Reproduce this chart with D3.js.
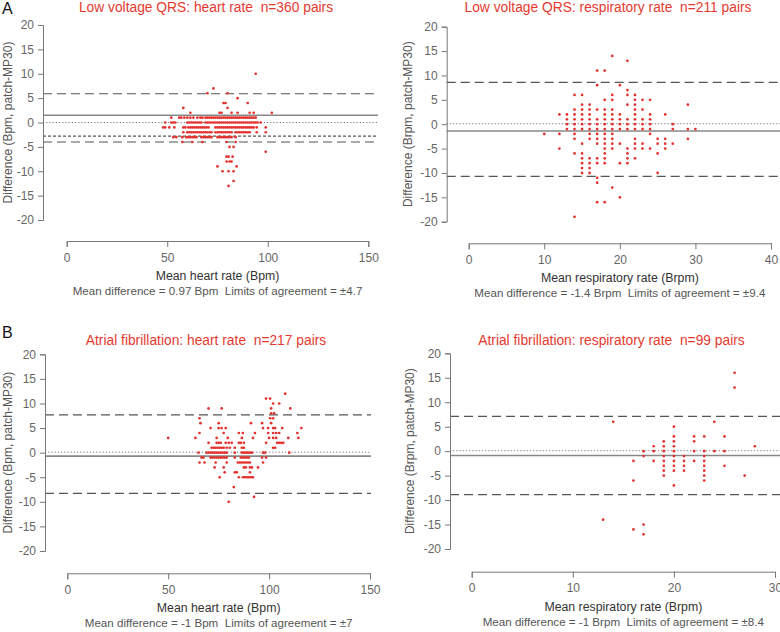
<!DOCTYPE html>
<html lang="en">
<head>
<meta charset="UTF-8">
<title>Bland-Altman: patch vs MP30</title>
<script src="https://cdn.jsdelivr.net/npm/d3@7"></script>
<style>
  html, body { margin: 0; padding: 0; background: #fff; }
  svg { display: block; font-family: "Liberation Sans", Arial, Helvetica, sans-serif; }
  .tick text { fill: #666; font-size: 12px; }
  .domain, .tick line { stroke: #777; }
</style>
</head>
<body>
<script>
// rows: [difference, [mean values at that difference]]
const hrLvqrs = [
  [10, [94]],
  [7, [73]],
  [6, [70, 80]],
  [5, [85]],
  [4, [78, 79, 90]],
  [3, [58, 80]],
  [2, [61.5, 76, 77, 82, 85, 91, 93, 102]],
  [1, [52, 56, 57, 58.5, 60, 61.5, 63, 65, 66.5, 67.5, 69, 70, 71, 72, 73, 74, 75, 76, 77, 78, 79, 80, 81, 82, 83, 84, 85, 86, 87, 88, 89, 90, 91, 92, 93, 94]],
  [0, [49, 52, 53, 54, 60, 61, 62, 63, 64, 65, 66, 67, 69, 70, 71, 72, 73, 74, 75, 76, 77, 78, 79, 80, 81, 82, 83, 84, 85, 86, 87, 88, 89, 90, 91, 92, 93, 94, 95, 96.5]],
  [-1, [48, 49, 51, 53.5, 58, 59, 60.5, 61.5, 62.5, 63.5, 64.5, 65.5, 66.5, 67.5, 68.5, 69.5, 70.5, 74, 75, 76, 77, 78, 79, 80, 81, 82, 83, 84, 85, 86, 87, 88, 89, 90, 91, 92, 93, 94.5, 99]],
  [-2, [58, 60, 61, 62, 63, 64, 65, 66, 67, 68, 69, 70, 71, 72, 74, 75, 76, 77, 78, 79, 80, 81, 82, 84, 85, 86, 87, 88, 89, 90, 91, 94.5, 99]],
  [-3, [53, 54.5, 57.5, 59.5, 60.5, 61.5, 62.5, 63.5, 64.5, 67, 68, 69, 70, 71, 72, 75, 76, 77, 78, 79, 80, 81, 82, 84]],
  [-4, [57.5, 62.5, 67.5, 79.5, 84]],
  [-5, [81, 83]],
  [-6, [99]],
  [-7, [79.5, 80.5, 82.5]],
  [-8, [79.5, 81, 82]],
  [-9, [75, 84.5]],
  [-10, [77.5, 80.5, 83]],
  [-12, [83]],
  [-13, [80.5]]
];

const rrLvqrs = [
  [14, [19]],
  [13, [21]],
  [11, [17, 18]],
  [8, [17, 20]],
  [7, [21]],
  [6, [14, 15, 19, 21, 22]],
  [5, [18, 19, 22, 23, 24]],
  [4, [15, 16, 21, 22, 29]],
  [3, [14, 15, 16, 17, 18, 19, 22, 23]],
  [2, [12, 13, 14, 15, 16, 18, 19, 20, 22, 24, 26]],
  [1, [13, 14, 15, 16, 17, 18, 19, 20, 21, 22, 23, 24]],
  [0, [13, 14, 15, 16, 17, 18, 19, 20, 21, 22, 23, 24, 27]],
  [-1, [13, 14, 15, 16, 17, 18, 19, 20, 21, 22, 23, 24, 27, 29, 30]],
  [-2, [10, 12, 14, 16, 17, 18, 19, 24]],
  [-3, [14, 16, 17, 18, 19, 22, 25, 26, 29]],
  [-4, [15, 17, 18, 19, 20, 22, 23, 25, 26, 27]],
  [-5, [12, 18, 19, 21, 22, 23, 24, 26]],
  [-6, [14, 15, 18, 21, 25]],
  [-7, [15, 16, 17, 18, 21, 22]],
  [-8, [15, 16, 17, 18, 20, 21]],
  [-9, [15, 16]],
  [-10, [15, 16, 25]],
  [-11, [17]],
  [-12, [17]],
  [-13, [19]],
  [-15, [20]],
  [-16, [17, 18]],
  [-19, [14]]
];

const hrAf = [
  [12, [108]],
  [11, [98.5, 100.5]],
  [10, [102, 105]],
  [9, [70, 76.5, 101, 110.5]],
  [8, [101, 102.5]],
  [7, [65.5, 100.5, 102]],
  [6, [66, 75, 91, 96.5, 101]],
  [5, [71, 75, 76.5, 78.5, 97, 99.5, 102, 103, 106.5, 116]],
  [4, [65.5, 77.5, 85, 87, 93, 99.5, 102, 103.5, 105, 114]],
  [3, [50, 63.5, 74, 79.5, 86.5, 92, 100, 102, 103.5, 109.5, 114.5]],
  [2, [70, 74, 75, 76, 78.5, 80, 81.5, 85, 86, 87.5, 98.5, 104, 105, 106, 107]],
  [1, [71.5, 72.5, 73.5, 74.5, 75.5, 76.5, 77.5, 79, 80.5, 83, 86.5, 87.5, 102, 103]],
  [0, [65, 69, 70, 71, 72, 73, 74, 75, 76, 77, 78, 79, 83, 86.5, 87.5, 88.5, 89.5, 90.5, 91.5, 97, 98, 110]],
  [-1, [66.5, 67.5, 71, 72, 73, 74, 75, 76, 77, 78, 79, 83, 86, 87, 88, 89, 90, 96.5, 98.5]],
  [-2, [65.5, 68, 73.5, 79, 84.5, 85.5, 86.5, 87.5, 88.5, 89.5, 90.5, 97]],
  [-3, [73, 77.5, 87.5, 88.5, 90.5, 91.5, 94.5]],
  [-4, [78, 83, 84, 90.5]],
  [-5, [75.5, 85, 87, 88, 89, 90, 91, 92]],
  [-7, [82.5]],
  [-9, [92.5]],
  [-10, [80]]
];

const rrAf = [
  [16, [26]],
  [13, [26]],
  [6, [14, 24]],
  [5, [20]],
  [3, [20, 22, 23, 25]],
  [2, [19, 20, 22]],
  [1, [18, 19, 20, 28]],
  [0, [17, 18, 19, 20, 22, 23, 24, 25]],
  [-1, [17, 19, 20, 21, 23]],
  [-2, [16, 18, 19, 20, 21, 22, 23]],
  [-3, [19, 20, 21, 23, 25]],
  [-4, [19, 20, 21, 23]],
  [-5, [19, 23, 27]],
  [-6, [16, 23]],
  [-7, [20]],
  [-14, [13]],
  [-15, [17]],
  [-16, [16]],
  [-17, [17]]
];

// reference lines: value and style
const hrLvqrsLines = [[5.9, "dash"], [1.5, "solid"], [0, "dot"], [-2.8, "short"], [-4.0, "dash"]];
const rrLvqrsLines = [[8.6, "dash"], [0.1, "dot"], [-1.4, "solid"], [-10.7, "dash"]];
const hrAfLines = [[7.7, "dash"], [0.1, "dot"], [-0.7, "solid"], [-8.3, "dash"]];
const rrAfLines = [[7.1, "dash"], [0.1, "dot"], [-0.9, "solid"], [-8.9, "dash"]];

const yTicks = [20, 15, 10, 5, 0, -5, -10, -15, -20];
const hrTicks = [0, 50, 100, 150];

const panels = [
  {tag: "A", title: "Low voltage QRS: heart rate  n=360 pairs", rows: hrLvqrs, lines: hrLvqrsLines,
   xMax: 150, xTicks: hrTicks, xLabel: "Mean heart rate (Bpm)", yLabel: "Difference (Bpm, patch-MP30)",
   caption: "Mean difference = 0.97 Bpm  Limits of agreement = \u00b14.7",
   box: {ax: 43, top: 25, bottom: 220, axisY: 241, left: 66.7, right: 368.3, lineEnd: 378, titleX: 206, titleY: 12, labelX: 8, tagY: 14}},
  {tag: "", title: "Low voltage QRS: respiratory rate  n=211 pairs", rows: rrLvqrs, lines: rrLvqrsLines,
   xMax: 40, xTicks: [0, 10, 20, 30, 40], xLabel: "Mean respiratory rate (Brpm)", yLabel: "Difference (Brpm, patch-MP30)",
   caption: "Mean difference = -1.4 Brpm  Limits of agreement = \u00b19.4",
   box: {ax: 446.7, top: 26.7, bottom: 221.7, axisY: 243.3, left: 468.7, right: 771, lineEnd: 780, titleX: 608, titleY: 12, labelX: 408}},
  {tag: "B", title: "Atrial fibrillation: heart rate  n=217 pairs", rows: hrAf, lines: hrAfLines,
   xMax: 150, xTicks: hrTicks, xLabel: "Mean heart rate (Bpm)", yLabel: "Difference (Bpm, patch-MP30)",
   caption: "Mean difference = -1 Bpm  Limits of agreement = \u00b17",
   box: {ax: 45, top: 354.3, bottom: 551, axisY: 573.3, left: 67.3, right: 370, lineEnd: 371, titleX: 206, titleY: 345, labelX: 8, tagY: 338}},
  {tag: "", title: "Atrial fibrillation: respiratory rate  n=99 pairs", rows: rrAf, lines: rrAfLines,
   xMax: 30, xTicks: [0, 10, 20, 30], xLabel: "Mean respiratory rate (Brpm)", yLabel: "Difference (Brpm, patch-MP30)",
   caption: "Mean difference = -1 Brpm  Limits of agreement = \u00b18.4",
   box: {ax: 450, top: 353.3, bottom: 549, axisY: 571.7, left: 471.7, right: 775, lineEnd: 780, titleX: 611.5, titleY: 345, labelX: 410}}
];

const lineStyle = {
  dash:  {stroke: "#555", width: 1.2, dash: "9,5"},
  solid: {stroke: "#888", width: 1.6, dash: null},
  dot:   {stroke: "#777", width: 1, dash: "1.2,2"},
  short: {stroke: "#555", width: 1.1, dash: "3,2"}
};

const svg = d3.select("body").append("svg")
  .attr("width", 780)
  .attr("height", 632);

panels.forEach(p => {
  const b = p.box;
  const g = svg.append("g");
  const x = d3.scaleLinear().domain([0, p.xMax]).range([b.left, b.right]);
  const y = d3.scaleLinear().domain([-20, 20]).range([b.bottom, b.top]);

  // reference lines
  p.lines.forEach(([v, kind]) => {
    const s = lineStyle[kind];
    g.append("line")
      .attr("x1", b.ax).attr("x2", b.lineEnd)
      .attr("y1", y(v)).attr("y2", y(v))
      .attr("stroke", s.stroke)
      .attr("stroke-width", s.width)
      .attr("stroke-dasharray", s.dash);
  });

  // points
  const pts = p.rows.flatMap(([d, xs]) => xs.map(v => ({x: v, d: d})));
  g.append("g").selectAll("circle")
    .data(pts)
    .join("circle")
    .attr("cx", d => x(d.x))
    .attr("cy", d => y(d.d))
    .attr("r", 1.35)
    .attr("fill", "#e3302c");

  // y axis
  g.append("g")
    .attr("transform", `translate(${b.ax},0)`)
    .call(d3.axisLeft(y).tickValues(yTicks).tickFormat(d => String(d)).tickSize(5).tickPadding(4));

  // x axis
  g.append("g")
    .attr("transform", `translate(0,${b.axisY})`)
    .call(d3.axisBottom(x).tickValues(p.xTicks).tickFormat(d => String(d)).tickSize(6).tickPadding(6));

  g.selectAll(".domain").attr("stroke", "#777");

  // texts
  g.append("text")
    .attr("x", b.titleX).attr("y", b.titleY)
    .attr("text-anchor", "middle")
    .style("white-space", "pre")
    .attr("font-size", 13.8)
    .attr("fill", "#e5392f")
    .text(p.title);

  g.append("text")
    .attr("x", (b.left + b.right) / 2).attr("y", b.axisY + 39)
    .attr("text-anchor", "middle")
    .attr("font-size", 12.3)
    .attr("fill", "#333")
    .text(p.xLabel);

  g.append("text")
    .attr("x", (b.left + b.right) / 2).attr("y", b.axisY + 54)
    .attr("text-anchor", "middle")
    .style("white-space", "pre")
    .attr("font-size", 11.6)
    .attr("fill", "#555")
    .text(p.caption);

  g.append("text")
    .attr("transform", `translate(${b.labelX},${(b.top + b.bottom) / 2}) rotate(-90)`)
    .attr("text-anchor", "middle")
    .attr("dy", "0.35em")
    .attr("font-size", 12)
    .attr("fill", "#555")
    .text(p.yLabel);

  if (p.tag) {
    svg.append("text")
      .attr("x", 2).attr("y", b.tagY)
      .attr("font-size", 16)
      .attr("fill", "#111")
      .text(p.tag);
  }
});
</script>
</body>
</html>
